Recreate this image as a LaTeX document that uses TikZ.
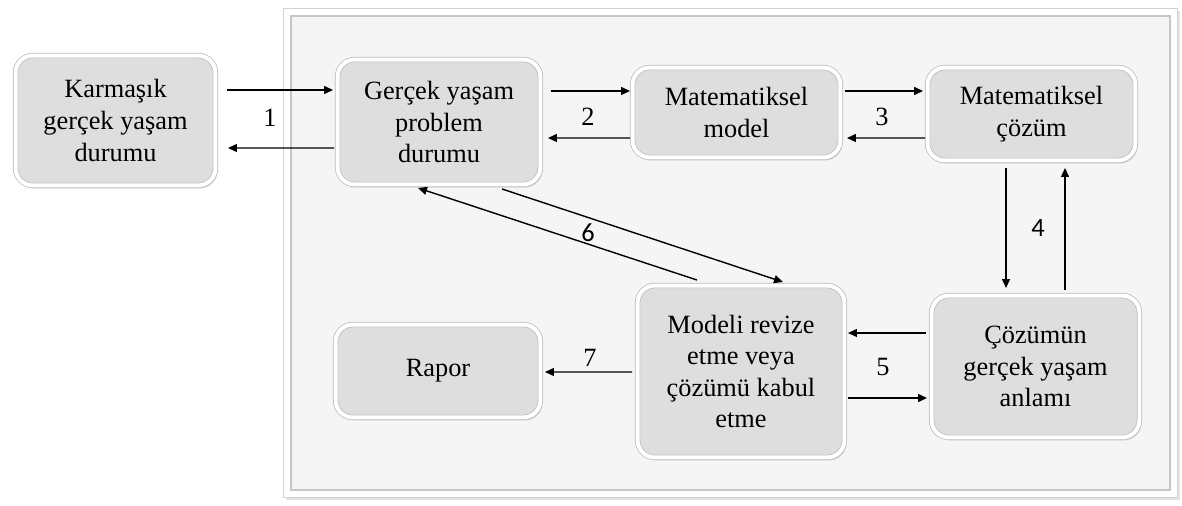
\documentclass[tikz,border=0pt]{standalone}
\usepackage{fontspec}
\setmainfont{Liberation Serif}
\newfontfamily\sansnum{Carlito}
\usetikzlibrary{arrows.meta,calc,shadows}
\definecolor{boxgray}{HTML}{DEDEDE}
\definecolor{framegray}{HTML}{F5F5F5}

\begin{document}
\begin{tikzpicture}[x=0.02cm, y=-0.02cm,
  stage/.style={rounded corners=0.35cm, fill=boxgray, draw=gray!55, line width=0.4pt,
    double=white, double distance=0.08cm, outer sep=0.05cm, inner sep=0pt,
    align=center, font=\fontsize{15}{18}\selectfont,
    drop shadow={shadow xshift=0.04cm, shadow yshift=-0.06cm, opacity=0.3}},
  flow/.style={-{Triangle[length=0.18cm, width=0.16cm]}, line width=0.8pt},
  num/.style={font=\fontsize{15}{18}\selectfont},
  sansnumber/.style={font=\sansnum\fontsize{15}{18}\selectfont}]

% page size in pixels of the reference
\fill[white] (0,0) rectangle (1182,506);
\useasboundingbox (0,0) rectangle (1182,506);

% === Big light panel behind the modelling cycle ===
\fill[gray!22] (286,11) rectangle (1180,500);   % soft shadow
\fill[white] (283,8) rectangle (1177,497);
\draw[gray!35, line width=0.4pt] (283,8) rectangle (1177,497);
\fill[framegray] (291,16) rectangle (1170,490);
\draw[gray!45, line width=0.8pt] (291,16) rectangle (1170,490);

% === Boxes ===
\node[stage, minimum width=4.0cm, minimum height=2.6cm] (karmasik) at (115.5,120.5)
  {Karmaşık\\gerçek yaşam\\durumu};
\node[stage, minimum width=4.06cm, minimum height=2.5cm] (gercek) at (439,122)
  {Gerçek yaşam\\problem\\durumu};
\node[stage, minimum width=4.16cm, minimum height=1.8cm] (model) at (736.5,112.5)
  {Matematiksel\\model};
\node[stage, minimum width=4.16cm, minimum height=1.86cm] (cozum) at (1031.5,114)
  {Matematiksel\\çözüm};
\node[stage, minimum width=4.16cm, minimum height=2.84cm] (anlam) at (1035.5,366.5)
  {Çözümün\\gerçek yaşam\\anlamı};
\node[stage, minimum width=4.14cm, minimum height=3.44cm] (revize) at (741,371.5)
  {Modeli revize\\etme veya\\çözümü kabul\\etme};
\node[stage, minimum width=4.1cm, minimum height=1.86cm] (rapor) at (438,371)
  {Rapor};

% === Arrows, pairwise ===
% 1
\draw[flow] ($(karmasik.east)+(9,-30.5)$) -- ($(gercek.west)+(-2,-32)$);
\draw[flow] ($(gercek.west)+(-1,26)$) -- ($(karmasik.east)+(10,27.5)$);
% 2
\draw[flow] ($(gercek.east)+(8,-31)$) -- ($(model.west)+(0,-21.5)$);
\draw[flow] ($(model.west)+(0,25.5)$) -- ($(gercek.east)+(5,16)$);
% 3
\draw[flow] ($(model.east)+(2,-21.5)$) -- ($(cozum.west)+(-2,-23)$);
\draw[flow] ($(cozum.west)+(0,24)$) -- ($(model.east)+(4,25.5)$);
% 4
\draw[flow] ($(cozum.south)+(-25.5,5)$) -- ($(anlam.north)+(-29.5,-5)$);
\draw[flow] ($(anlam.north)+(29.5,-3)$) -- ($(cozum.south)+(33.5,5)$);
% 5
\draw[flow] ($(anlam.west)+(-3,-33.5)$) -- ($(revize.east)+(1,-38.5)$);
\draw[flow] ($(revize.east)+(1,26.5)$) -- ($(anlam.west)+(-2,31.5)$);
% 6 (diagonal pair)
\draw[flow] ($(revize.north)+(-44,-3)$) -- ($(gercek.south)+(-21,1)$);
\draw[flow] ($(gercek.south)+(63,2)$) -- ($(revize.north)+(42,-1)$);
% 7
\draw[flow] ($(revize.west)+(-3,0.5)$) -- ($(rapor.east)+(2,1)$);

% === Step numbers ===
\node[num] (n1) at (270,118) {1};
\node[num] (n2) at (588,117) {2};
\node[num] (n3) at (882,117) {3};
\node[sansnumber] (n4) at (1038,228) {4};
\node[num] (n5) at (883,367) {5};
\node[sansnumber] (n6) at (588,233) {6};
\node[num] (n7) at (590,358) {7};

\end{tikzpicture}
\end{document}
